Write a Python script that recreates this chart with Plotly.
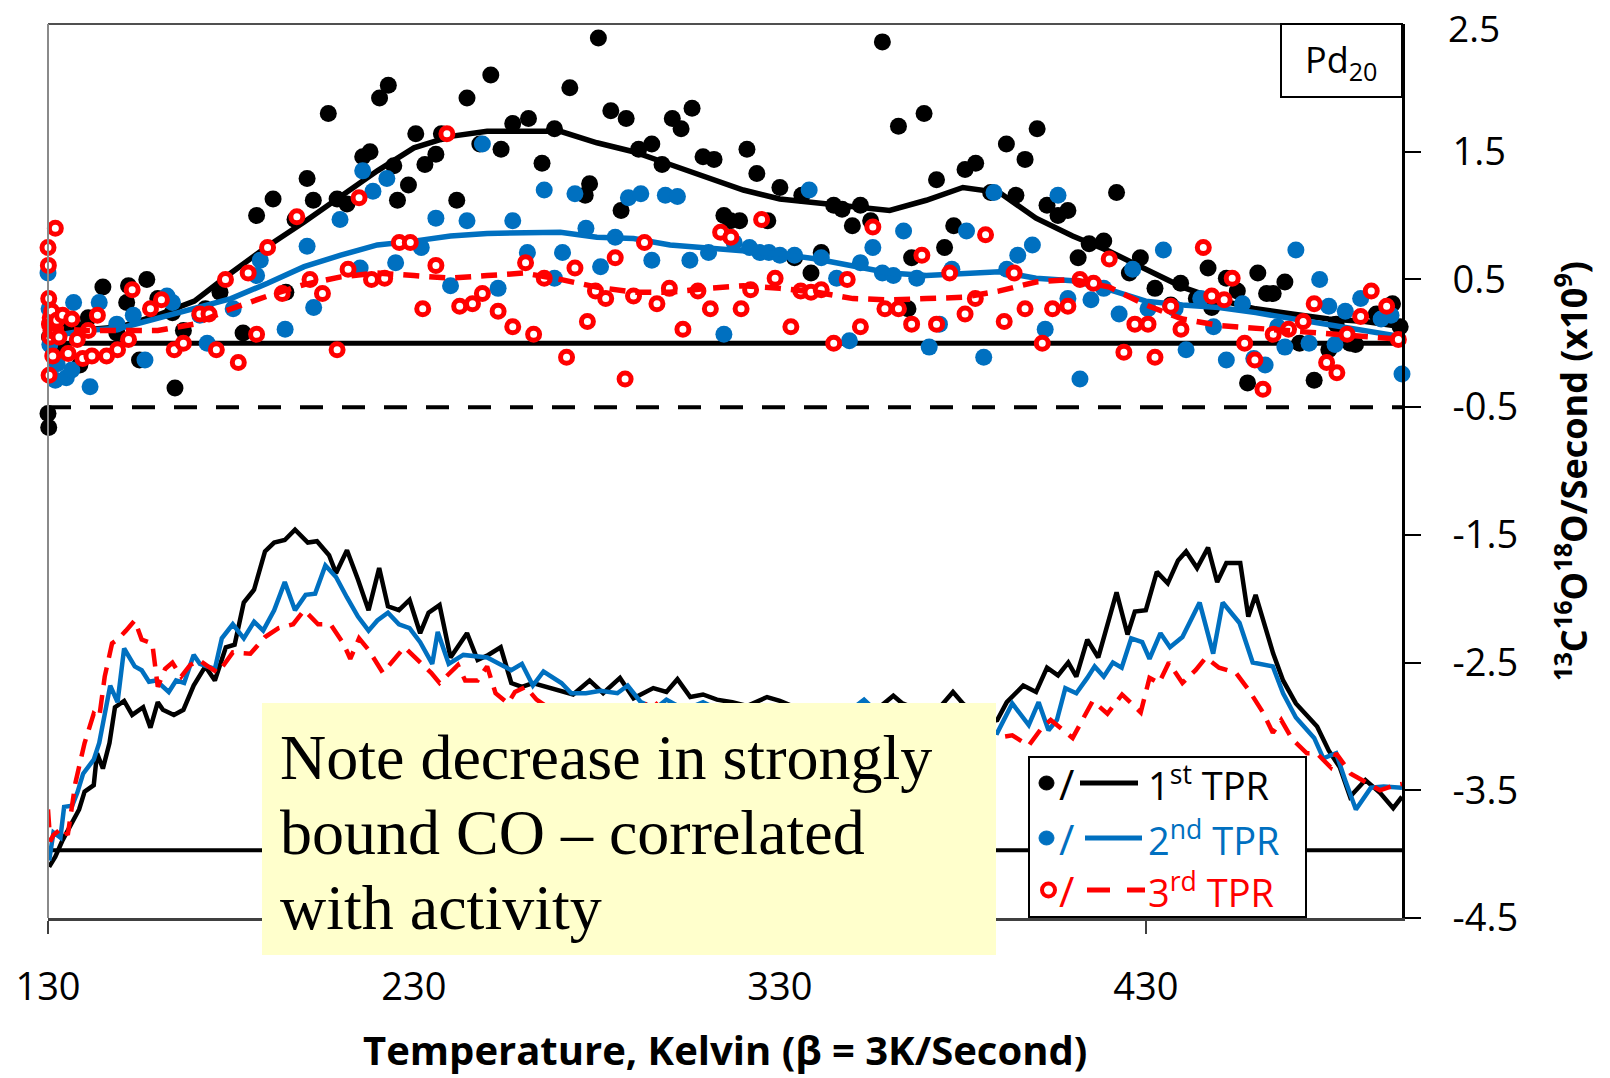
import plotly.graph_objects as go

# ------------------------------------------------------------------ data
# upper panel: raw points (1st, 2nd, 3rd TPR)
black_dot_x = [130, 130.2, 130.4, 130.6, 131, 131.5, 132, 133.6, 135, 138, 138.7, 141, 145, 148.8, 151.5, 152,
               155, 157, 160, 164, 164.7, 167, 173, 177, 183.3, 187, 191.5, 195, 197.5, 200.8, 202.5, 206.6,
               209, 211.7, 216, 218, 220.6, 223, 224.5, 225.5, 228.5, 230.5, 233, 236, 237.5, 241.7, 244.5,
               248, 251, 253.8, 257, 261.3, 265, 268.4, 272.6, 276.8, 278, 280.4, 283.8, 286.6, 288, 291.4,
               295, 297.8, 300.6, 303, 306, 309, 312, 314.7, 316.5, 319, 321, 323.7, 326.7, 330, 334, 336,
               338.5, 341.3, 344.7, 347, 349.8, 352, 354.8, 358, 362.4, 365, 366, 369.4, 372.8, 375, 377.5,
               380.6, 383.5, 387.6, 391.9, 394.5, 397, 400.3, 403, 406, 408.7, 411.5, 414.5, 418.5, 422,
               425.5, 428.5, 432.5, 436.8, 439.5, 443.8, 447, 448, 452, 455, 457.8, 460.6, 463, 464.8, 468,
               472, 476, 480, 482, 485.8, 487.3, 493, 497.4, 499.5]
black_dot_y = [-0.55, -0.66, 0.05, 0.15, 0.2, -0.05, 0.1, -0.05, 0.12, 0.11, -0.17, 0.2, 0.44, 0.08, 0.32, 0.45,
               -0.13, 0.5, 0.35, 0.24, -0.35, 0.1, 0.27, 0.4, 0.08, 1.0, 1.13, 0.4, 0.97, 1.29, 1.12, 1.8,
               1.13, 1.09, 1.46, 1.5, 1.92, 2.02, 1.39, 1.12, 1.24, 1.64, 1.4, 1.48, 1.64, 1.12, 1.92,
               1.56, 2.1, 1.52, 1.72, 1.76, 1.41, 1.68, 2.0, 1.16, 1.25, 2.39, 1.82, 1.04, 1.76, 1.52,
               1.56, 1.4, 1.76, 1.68, 1.84, 1.46, 1.44, 1.0, 0.96, 0.96, 1.52, 1.33, 0.96, 1.22, 0.67, 1.16,
               0.55, 0.71, 1.08, 1.05, 0.92, 1.08, 0.96, 2.36, 1.7, 0.27, 0.67, 1.8, 1.28, 0.75, 0.92,
               1.36, 1.41, 1.18, 1.56, 1.16, 1.44, 1.68, 1.08, 1.0, 1.04, 0.67, 0.78, 0.8, 1.18,
               0.55, 0.67, 0.43, 0.3, 0.47, 0.35, 0.59, 0.28, 0.51, 0.41, -0.31, 0.55, 0.39, 0.39, 0.48,
               0.0, -0.29, -0.05, 0.15, 0.0, -0.01, 0.23, 0.31, 0.13]

blue_dot_x = [130, 130.3, 130.5, 131, 132, 132.5, 135, 136.5, 137, 141.5, 144, 148.8, 153.3, 156.5, 162.5, 164,
              171.5, 173.5, 180.6, 187, 188, 194.8, 200.8, 202.6, 209.8, 215.3, 216, 218.8, 222.6, 225, 232,
              236, 240, 244.5, 248.7, 253, 257, 261, 265.6, 268.4, 270.6, 274, 277, 281, 285, 288.6, 292,
              295, 298.7, 302, 305.4, 310.5, 314.7, 317.5, 321.7, 324.5, 327, 330, 334, 338, 341.3, 345.5,
              349, 352, 355.4, 358, 361, 363.8, 367.4, 370.8, 373.6, 377, 381, 385.7, 388.5, 392, 395, 399,
              402.5, 406, 408.7, 412, 415, 418.5, 422.7, 426.4, 430.6, 434.8, 438, 441, 445, 448.5, 452,
              456.4, 459.5, 462.6, 466, 468, 471, 474.6, 477.5, 480, 481.7, 484.5, 488.7, 494.3, 497, 500]
blue_dot_y = [0.55, 0.27, -0.01, 0.2, -0.29, -0.16, -0.27, -0.21, 0.32, -0.34, 0.32, 0.15, 0.22, -0.13, 0.37, 0.32,
              0.22, 0.0, 0.27, 0.53, 0.65, 0.11, 0.76, 0.28, 0.97, 0.59, 1.35, 1.19, 1.29, 0.63, 0.75,
              0.98, 0.45, 0.96, 1.56, 0.43, 0.96, 0.71, 1.2, 0.51, 0.71, 1.17, 0.9, 0.6, 0.83, 1.14, 1.17,
              0.65, 1.16, 1.15, 0.65, 0.71, 0.07, 0.79, 0.75, 0.71, 0.71, 0.69, 0.69, 1.2, 0.67, 0.51,
              0.02, 0.63, 0.75, 0.55, 0.53, 0.88, 0.51, -0.03, 0.15, 0.58, 0.88, -0.11, 1.18, 0.58, 0.69, 0.77,
              0.11, 1.16, 0.35, -0.28, 0.34, 0.43, 0.23, 0.58, 0.27, 0.73, 0.27, -0.05, 0.35, 0.13, -0.13,
              0.31, -0.12, -0.17, 0.13, -0.03, 0.73, 0.0, 0.5, 0.29, -0.01, 0.25, 0.35, 0.19, 0.22, -0.24]

red_dot_x = [130, 130.1, 130.2, 130.3, 130.4, 130.5, 130.6, 130.8, 131, 131.3, 131.6, 132, 132.4, 133, 134,
             135.5, 136.5, 138, 139.5, 141, 142, 143.5, 146, 149, 152, 153, 158, 161, 164.5, 167, 171.5,
             174, 176, 178.5, 182, 184.7, 187, 190, 194, 198, 201.6, 205, 209, 212, 215, 218.4, 222, 226,
             229, 232.4, 236, 239, 242.5, 246, 248.7, 253, 257, 260.5, 262.7, 265.6, 271.7, 274, 277.4,
             279.6, 282.4, 285, 287.7, 290, 293, 296.4, 299.8, 303.5, 307.6, 311, 313.8, 316.6, 319.4, 322,
             325, 328.7, 333, 335.7, 338.5, 341.3, 344.7, 348.4, 352, 355.4, 358.7, 362.4, 366, 368.8,
             372.8, 376.4, 380.6, 383.4, 386.2, 391.3, 394, 397, 401.7, 404.5, 408.7, 412, 415.7, 420, 424,
             427, 430.6, 432.5, 436.8, 439.6, 445.7, 448, 451.4, 453.6, 457, 459.8, 462, 464.8, 469, 473,
             476, 479.4, 482.2, 485, 488.7, 491.6, 495.8, 499]
red_dot_y = [0.75, 0.61, 0.35, -0.25, 0.15, 0.05, 0.2, 0.1, 0.25, -0.1, 0.12, 0.9, 0.18, 0.05, 0.22,
             -0.08, 0.19, 0.03, -0.12, 0.1, -0.1, 0.22, -0.1, -0.05, 0.03, 0.42, 0.27, 0.34, -0.05, 0.0, 0.23,
             0.23, -0.05, 0.5, -0.15, 0.55, 0.07, 0.75, 0.39, 0.99, 0.5, 0.39, -0.05, 0.58, 1.14, 0.5, 0.51, 0.79,
             0.79, 0.27, 0.61, 1.64, 0.29, 0.31, 0.39, 0.25, 0.13, 0.63, 0.07, 0.51, -0.11, 0.59, 0.17,
             0.41, 0.35, 0.67, -0.28, 0.37, 0.79, 0.31, 0.43, 0.11, 0.41, 0.27, 0.87, 0.83, 0.27, 0.42,
             0.97, 0.51, 0.13, 0.41, 0.4, 0.42, 0.0, 0.5, 0.13, 0.91, 0.27, 0.27, 0.15, 0.69,
             0.15, 0.55, 0.23, 0.35, 0.85, 0.17, 0.55, 0.27, 0.0, 0.27, 0.29, 0.5, 0.47, 0.66, -0.07,
             0.15, 0.15, -0.11, 0.29, 0.11, 0.75, 0.37, 0.34, 0.51, 0.0, -0.13, -0.36, 0.07, 0.11, 0.17,
             0.31, -0.15, -0.23, 0.07, 0.21, 0.41, 0.29, 0.03]

# upper panel: running averages
avg_x = [130, 140, 150, 160, 170, 180, 190, 200, 210, 220, 230, 240, 250, 260, 270, 280, 290, 300, 310,
         320, 330, 340, 350, 360, 370, 380, 390, 400, 410, 420, 430, 440, 450, 460, 470, 480, 490, 500]
black_avg = [0.08, 0.1, 0.13, 0.22, 0.33, 0.55, 0.76, 0.95, 1.15, 1.35, 1.53, 1.62, 1.66, 1.66, 1.66, 1.57,
             1.5, 1.4, 1.3, 1.2, 1.13, 1.1, 1.06, 1.04, 1.12, 1.22, 1.18, 0.98, 0.84, 0.72, 0.58, 0.44,
             0.34, 0.27, 0.23, 0.19, 0.17, 0.13]
blue_avg = [0.05, 0.1, 0.12, 0.2, 0.27, 0.35, 0.47, 0.6, 0.69, 0.77, 0.8, 0.84, 0.86, 0.87, 0.87, 0.83,
            0.82, 0.77, 0.75, 0.73, 0.7, 0.66, 0.61, 0.55, 0.53, 0.55, 0.56, 0.51, 0.49, 0.42, 0.33, 0.3,
            0.28, 0.24, 0.19, 0.14, 0.1, 0.05]
red_avg = [0.12, 0.1, 0.1, 0.1, 0.15, 0.27, 0.37, 0.46, 0.52, 0.55, 0.53, 0.51, 0.53, 0.55, 0.5, 0.44,
           0.4, 0.4, 0.43, 0.45, 0.43, 0.4, 0.35, 0.34, 0.35, 0.36, 0.41, 0.48, 0.5, 0.44, 0.3, 0.19,
           0.14, 0.12, 0.1, 0.08, 0.06, 0.03]

# lower panel: strongly bound CO traces (offset)
low1_x = [130.3, 132, 134, 136.6, 138.5, 140, 142.5, 143.4, 145, 146.8, 148.3, 150.8, 153, 156, 158, 160,
          161.4, 164.4, 167, 169.8, 173, 175.6, 178.6, 181, 183.5, 186.3, 189.3, 191.8, 194.7, 197.5, 201,
          203.5, 206.8, 208.7, 211.7, 214.7, 217.6, 220.5, 222.9, 225.9, 228.8, 231.7, 234, 237, 240,
          244.5, 247.4, 250.3, 253.7, 256.6, 259.5, 262.5, 266.4, 270, 273.5, 278, 281.7, 286.3, 290,
          295.4, 299, 302, 305.5, 309, 312.8, 317, 321, 326.5, 330, 335, 340, 345, 350, 355, 358, 361,
          363.5, 367, 371, 374, 377.3, 380, 383, 386, 389.4, 392, 396.5, 400, 403, 406, 408.8, 411, 414,
          417, 422, 425, 427, 430, 433, 436, 438.8, 441, 444, 447, 449.5, 452, 455.8, 458, 460, 464.8,
          467.5, 471, 476.8, 480, 483, 485.8, 490, 494, 497.6, 500]
low1_y = [-4.1, -4.02, -3.89, -3.76, -3.65, -3.51, -3.46, -3.21, -3.33, -3.13, -2.85, -2.8, -2.91, -2.85, -3.01, -2.81,
          -2.87, -2.91, -2.87, -2.68, -2.53, -2.64, -2.38, -2.36, -2.03, -1.93, -1.63, -1.56, -1.54, -1.46, -1.56,
          -1.55, -1.66, -1.8, -1.62, -1.85, -2.09, -1.76, -2.06, -2.09, -2.01, -2.27, -2.11, -2.05, -2.46,
          -2.27, -2.48, -2.44, -2.38, -2.66, -2.69, -2.66, -2.69, -2.72, -2.75, -2.64, -2.74, -2.62, -2.78,
          -2.7, -2.73, -2.63, -2.77, -2.75, -2.79, -2.81, -2.84, -2.77, -2.8, -2.86, -2.84, -2.88, -2.85, -2.87, -2.83, -2.76,
          -2.82, -2.86, -2.88, -2.84, -2.73, -2.82, -2.9, -2.97, -2.95, -2.81, -2.68, -2.73, -2.54, -2.6, -2.5, -2.61, -2.32,
          -2.46, -1.95, -2.28, -2.1, -2.09, -1.79, -1.88, -1.7, -1.63, -1.76, -1.6, -1.87, -1.72, -1.72, -2.14, -1.97, -2.43,
          -2.64, -2.82, -3.0, -3.19, -3.32, -3.55, -3.42, -3.52, -3.64, -3.55]

low2_x = [130.3, 131.5, 133.4, 134.4, 136.6, 138, 139.6, 142.5, 144, 145.5, 147, 149, 150.8, 153.7, 155.6, 157.6,
          159.5, 163, 165, 167.2, 169.8, 171.5, 175.6, 177.5, 180.5, 183.5, 186.3, 188.8, 191.8, 194.7, 197.5,
          200.4, 203, 205.8, 208.7, 211.7, 214.7, 217.6, 220, 222.9, 225.9, 228.8, 231.7, 235, 236.5, 239.5,
          243.5, 250, 253.7, 256.6, 259.5, 262.5, 265.4, 270.3, 273, 277, 281, 285.6, 288.4, 292, 296, 299,
          304, 309, 314, 320, 326, 332, 338, 344, 349, 353, 357, 362, 368, 374, 380, 385, 389.4, 393.5, 398,
          400.7, 403.4, 405.7, 408, 411, 414, 416, 418.5, 421, 423.4, 426, 429, 431, 434, 436.6, 440, 444.7,
          448.4, 451, 455.6, 459.2, 464.7, 467.5, 471, 476, 478.5, 482, 484.7, 487.4, 491.5, 495, 500]
low2_y = [-4.05, -3.83, -3.87, -3.63, -3.62, -3.52, -3.37, -3.26, -3.13, -2.9, -2.68, -2.81, -2.39, -2.53, -2.56, -2.65,
          -2.64, -2.73, -2.64, -2.66, -2.44, -2.51, -2.55, -2.31, -2.2, -2.31, -2.18, -2.25, -2.09, -1.87, -2.09,
          -1.97, -1.96, -1.74, -1.83, -1.99, -2.14, -2.25, -2.17, -2.11, -2.2, -2.23, -2.34, -2.51, -2.26, -2.51,
          -2.44, -2.46, -2.52, -2.56, -2.51, -2.68, -2.57, -2.66, -2.74, -2.74, -2.72, -2.74, -2.68, -2.81, -2.86, -2.79,
          -2.87, -2.81, -2.88, -2.9, -2.87, -2.92, -2.9, -2.94, -2.88, -2.79, -2.9, -2.95, -2.93, -2.97, -2.95, -3.02, -3.05,
          -2.82, -2.99, -2.81, -3.03, -2.95, -2.7, -2.74, -2.62, -2.53, -2.61, -2.5, -2.54, -2.31, -2.34, -2.47, -2.27,
          -2.38, -2.3, -2.03, -2.43, -2.03, -2.19, -2.5, -2.53, -2.74, -2.93, -3.09, -3.25, -3.21, -3.44, -3.65, -3.48,
          -3.47, -3.48]

low3_x = [130, 130.6, 131.5, 134, 135.4, 137.5, 140, 142.5, 144, 145.5, 147.5, 149, 151.3, 153.7, 155.6, 158.5,
          160, 162, 164, 166.4, 168.8, 171.3, 173.7, 176.5, 180.5, 185.3, 189.3, 193, 197, 200, 203.8, 207.2,
          210.7, 212.6, 215, 217.6, 221.5, 223.5, 227.4, 230.3, 234.7, 237, 242, 244, 247.4, 250, 252.3,
          255.7, 257.6, 260.5, 263.5, 268, 273, 279, 285, 290, 295, 300, 306, 312, 318, 325, 332, 340, 348,
          356, 364, 372, 380, 385, 389.4, 393.5, 398, 401.6, 404, 410, 413.5, 415.5, 419.5, 423.5, 428.6,
          431, 433.6, 436.3, 440, 443.6, 446.4, 450, 454.6, 458, 462, 464.7, 467, 470, 474, 476.7, 480.5,
          482, 486, 490.6, 494, 498, 500]
low3_y = [-3.65, -3.9, -3.85, -3.79, -3.85, -3.44, -3.13, -2.9, -2.93, -2.61, -2.35, -2.32, -2.25, -2.17, -2.32, -2.35,
          -2.69, -2.55, -2.5, -2.61, -2.52, -2.48, -2.53, -2.58, -2.42, -2.43, -2.3, -2.23, -2.2, -2.09, -2.2, -2.2,
          -2.35, -2.47, -2.31, -2.4, -2.58, -2.51, -2.38, -2.46, -2.58, -2.66, -2.52, -2.64, -2.64, -2.53, -2.74,
          -2.82, -2.73, -2.69, -2.79, -2.88, -2.92, -2.9, -2.95, -2.92, -2.79, -2.93, -2.98, -2.95, -3.0, -2.97, -3.02, -2.98, -3.04,
          -3.0, -3.05, -3.02, -3.08, -3.06, -3.09, -3.07, -3.15, -3.01, -2.95, -3.09, -2.91, -2.8, -2.9, -2.75, -2.89,
          -2.62, -2.66, -2.5, -2.66, -2.56, -2.46, -2.54, -2.58, -2.71, -2.89, -3.05, -2.95, -3.1, -3.21, -3.21, -3.32,
          -3.21, -3.37, -3.45, -3.5, -3.46, -3.45]

zero_level = 0.0
dash_level = -0.5
base_level = -3.97

x_range = [130, 500]
y_range = [-4.5, 2.5]
x_ticks = [130, 230, 330, 430]
y_ticks = [2.5, 1.5, 0.5, -0.5, -1.5, -2.5, -3.5, -4.5]
y_tick_text = ["2.5", "1.5", "0.5", "-0.5", "-1.5", "-2.5", "-3.5", "-4.5"]

note_lines = ["Note decrease in strongly", "bound CO \u2013 correlated", "with activity"]
legend_labels = ["1<sup>st</sup> TPR", "2<sup>nd</sup> TPR", "3<sup>rd</sup> TPR"]

# ------------------------------------------------------------------ style
BLACK = "#000000"
BLUE = "#0070C0"
RED = "#FF0000"
SANS = "Open Sans"
SERIF = "Liberation Serif"

L, R, T, B = 48, 1402, 24, 918


def px(xp):
    return (xp - L) / (R - L)


def py(yp):
    return (B - yp) / (B - T)


fig = go.Figure()

# raw points + running averages
fig.add_trace(go.Scatter(x=black_dot_x, y=black_dot_y, mode="markers", cliponaxis=False,
                         marker=dict(size=17, color=BLACK)))
fig.add_trace(go.Scatter(x=avg_x, y=black_avg, mode="lines", line=dict(color=BLACK, width=5.5)))
fig.add_trace(go.Scatter(x=blue_dot_x, y=blue_dot_y, mode="markers", cliponaxis=False,
                         marker=dict(size=17, color=BLUE)))
fig.add_trace(go.Scatter(x=avg_x, y=blue_avg, mode="lines", line=dict(color=BLUE, width=5.5)))
fig.add_trace(go.Scatter(x=red_dot_x, y=red_dot_y, mode="markers", cliponaxis=False,
                         marker=dict(size=12, color="white", line=dict(color=RED, width=5))))
fig.add_trace(go.Scatter(x=avg_x, y=red_avg, mode="lines",
                         line=dict(color=RED, width=5.5, dash="16px,10px")))

# lower traces
fig.add_trace(go.Scatter(x=low1_x, y=low1_y, mode="lines", line=dict(color=BLACK, width=4.5)))
fig.add_trace(go.Scatter(x=low2_x, y=low2_y, mode="lines", line=dict(color=BLUE, width=4.5)))
fig.add_trace(go.Scatter(x=low3_x, y=low3_y, mode="lines", line=dict(color=RED, width=4.5, dash="18px,10px")))

shapes = []
# reference lines
shapes.append(dict(type="line", xref="x", yref="y", x0=x_range[0], x1=x_range[1], y0=zero_level, y1=zero_level,
                   line=dict(color=BLACK, width=5), layer="below"))
shapes.append(dict(type="line", xref="x", yref="y", x0=x_range[0], x1=x_range[1], y0=dash_level, y1=dash_level,
                   line=dict(color=BLACK, width=4, dash="23px,19px"), layer="below"))
shapes.append(dict(type="line", xref="x", yref="y", x0=x_range[0], x1=x_range[1], y0=base_level, y1=base_level,
                   line=dict(color=BLACK, width=4), layer="below"))
# frame: top and left
shapes.append(dict(type="line", xref="paper", yref="paper", x0=0, x1=1, y0=1, y1=1,
                   line=dict(color="#505050", width=2)))
shapes.append(dict(type="line", xref="paper", yref="paper", x0=0, x1=0, y0=0, y1=1,
                   line=dict(color="#8a8a8a", width=2)))
# Pd20 box
shapes.append(dict(type="rect", xref="paper", yref="paper", x0=px(1281), x1=1, y0=py(97), y1=1,
                   line=dict(color=BLACK, width=2), fillcolor="white"))
# yellow note box
shapes.append(dict(type="rect", xref="paper", yref="paper", x0=px(262), x1=px(996), y0=py(955), y1=py(703),
                   line=dict(width=0), fillcolor="#FFFFCC"))
# legend box
shapes.append(dict(type="rect", xref="paper", yref="paper", x0=px(1029), x1=px(1306), y0=py(917), y1=py(757),
                   line=dict(color=BLACK, width=2), fillcolor="white"))

rows_y = [783, 838, 890]
colors = [BLACK, BLUE, RED]
# legend markers
for i, (ry, c) in enumerate(zip(rows_y, colors)):
    if i < 2:
        shapes.append(dict(type="circle", xref="paper", yref="paper", x0=px(1039), x1=px(1054),
                           y0=py(ry + 7), y1=py(ry - 7), fillcolor=c, line=dict(color=c, width=1)))
    else:
        shapes.append(dict(type="circle", xref="paper", yref="paper", x0=px(1042), x1=px(1055),
                           y0=py(ry + 6.5), y1=py(ry - 6.5), fillcolor="white", line=dict(color=c, width=4)))
# legend line samples
shapes.append(dict(type="line", xref="paper", yref="paper", x0=px(1080), x1=px(1138), y0=py(783), y1=py(783),
                   line=dict(color=BLACK, width=5)))
shapes.append(dict(type="line", xref="paper", yref="paper", x0=px(1085), x1=px(1142), y0=py(838), y1=py(838),
                   line=dict(color=BLUE, width=5)))
shapes.append(dict(type="line", xref="paper", yref="paper", x0=px(1087), x1=px(1110), y0=py(890), y1=py(890),
                   line=dict(color=RED, width=5)))
shapes.append(dict(type="line", xref="paper", yref="paper", x0=px(1127), x1=px(1145), y0=py(890), y1=py(890),
                   line=dict(color=RED, width=5)))

annotations = []
for ry, c, lab in zip(rows_y, colors, legend_labels):
    annotations.append(dict(xref="paper", yref="paper", x=px(1066), y=py(ry), text="/", showarrow=False,
                            xanchor="center", yanchor="middle", font=dict(family=SANS, size=42, color=c)))
    annotations.append(dict(xref="paper", yref="paper", x=px(1146), y=py(ry), text=lab, showarrow=False,
                            xanchor="left", yanchor="middle", font=dict(family=SANS, size=38, color=c)))

# note text
for line, yc in zip(note_lines, [757, 832, 907]):
    annotations.append(dict(xref="paper", yref="paper", x=px(278), y=py(yc), text=line, showarrow=False,
                            xanchor="left", yanchor="middle", font=dict(family=SERIF, size=64, color=BLACK)))

# Pd20 label
annotations.append(dict(xref="paper", yref="paper", x=px(1341.5), y=py(62), text="Pd<sub>20</sub>",
                        showarrow=False, xanchor="center", yanchor="middle",
                        font=dict(family=SANS, size=36, color=BLACK)))
# top tick label (drawn as text so it is not dropped at the range edge)
annotations.append(dict(xref="paper", yref="y", x=px(1446), y=y_ticks[0], yshift=-3, text=y_tick_text[0],
                        showarrow=False, xanchor="left", yanchor="middle",
                        font=dict(family=SANS, size=37, color=BLACK)))
# axis titles
annotations.append(dict(xref="paper", yref="paper", x=px(1571), y=0.5, textangle=-90,
                        text="<b><sup>13</sup>C<sup>16</sup>O<sup>18</sup>O/Second (x10<sup>9</sup>)</b>",
                        showarrow=False, xanchor="center", yanchor="middle",
                        font=dict(family=SANS, size=36, color=BLACK)))
annotations.append(dict(xref="paper", yref="paper", x=0.5, y=py(1049),
                        text="<b>Temperature, Kelvin (\u03b2 = 3K/Second)</b>",
                        showarrow=False, xanchor="center", yanchor="middle",
                        font=dict(family=SANS, size=40, color=BLACK)))

fig.update_layout(
    width=1610, height=1078,
    margin=dict(l=L, r=1610 - R, t=T, b=1078 - B),
    paper_bgcolor="white", plot_bgcolor="white",
    showlegend=False,
    shapes=shapes, annotations=annotations,
    xaxis=dict(range=x_range, tickvals=x_ticks, ticks="outside", ticklen=13, tickwidth=2, tickcolor="#404040",
               showline=True, linecolor="#404040", linewidth=3, showgrid=False, zeroline=False,
               tickfont=dict(family=SANS, size=38, color=BLACK), ticklabelstandoff=20),
    yaxis=dict(range=y_range, side="right", tickvals=y_ticks[1:], ticktext=y_tick_text[1:], ticks="outside",
               ticklen=16, tickwidth=2, tickcolor=BLACK, showline=True, linecolor=BLACK, linewidth=3,
               showgrid=False, zeroline=False,
               tickfont=dict(family=SANS, size=38, color=BLACK), ticklabelstandoff=24),
)

fig.write_html("out.html")
